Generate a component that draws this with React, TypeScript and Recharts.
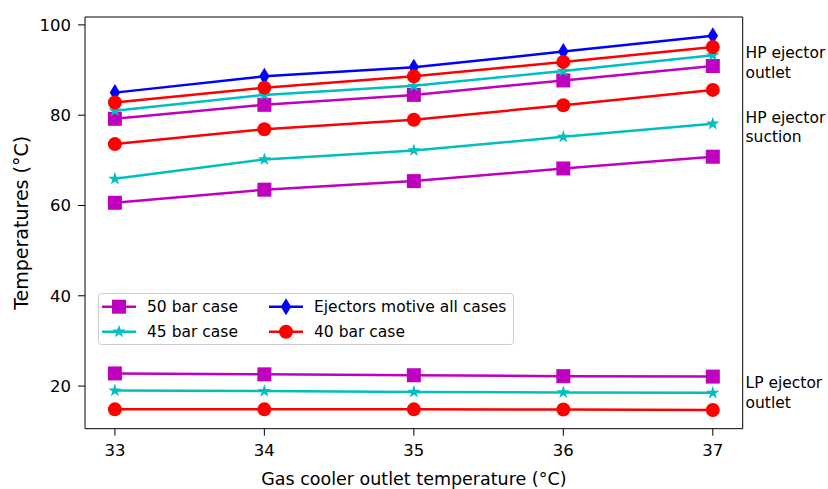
import { LineChart, Line, ReferenceLine, XAxis, YAxis } from 'recharts';

const temps = [33, 34, 35, 36, 37];

// 50 bar case
const bar50Outlet = [79.2, 82.3, 84.5, 87.7, 90.9];
const bar50Suction = [60.6, 63.5, 65.4, 68.2, 70.8];
const bar50Lp = [22.8, 22.6, 22.4, 22.2, 22.1];
// 45 bar case
const bar45Outlet = [81.0, 84.5, 86.5, 89.8, 93.3];
const bar45Suction = [65.9, 70.2, 72.2, 75.2, 78.1];
const bar45Lp = [19.0, 18.9, 18.7, 18.6, 18.5];
// motive, all cases
const motive = [85.0, 88.6, 90.6, 94.1, 97.6];
// 40 bar case
const bar40Outlet = [82.8, 86.1, 88.6, 91.8, 95.1];
const bar40Suction = [73.6, 76.9, 79.0, 82.2, 85.6];
const bar40Lp = [14.85, 14.85, 14.85, 14.8, 14.7];

const xTicks = [33, 34, 35, 36, 37];
const yTicks = [20, 40, 60, 80, 100];
const xDomain: [number, number] = [32.8, 37.2];
const yDomain: [number, number] = [10.56, 101.75];

const data = temps.map((t, i) => ({
  t,
  m1: bar50Outlet[i],
  m2: bar50Suction[i],
  m3: bar50Lp[i],
  c1: bar45Outlet[i],
  c2: bar45Suction[i],
  c3: bar45Lp[i],
  b: motive[i],
  r1: bar40Outlet[i],
  r2: bar40Suction[i],
  r3: bar40Lp[i],
}));

const MAGENTA = '#bf00bf';
const CYAN = '#00bfbf';
const BLUE = '#0000ff';
const RED = '#ff0000';
const FONT = '"DejaVu Sans", sans-serif';

type MarkerKind = 'square' | 'star' | 'diamond' | 'circle';

function Marker({ kind, cx, cy, color }: { kind: MarkerKind; cx: number; cy: number; color: string }) {
  if (kind === 'square') {
    return <rect x={cx - 7} y={cy - 7} width={14} height={14} fill={color} />;
  }
  if (kind === 'circle') {
    return <circle cx={cx} cy={cy} r={7} fill={color} />;
  }
  if (kind === 'diamond') {
    const pts = `${cx},${cy - 8.5} ${cx + 5.2},${cy} ${cx},${cy + 8.5} ${cx - 5.2},${cy}`;
    return <polygon points={pts} fill={color} />;
  }
  const R = 7;
  const r = R * 0.382;
  const pts: string[] = [];
  for (let k = 0; k < 10; k++) {
    const rad = k % 2 === 0 ? R : r;
    const a = -Math.PI / 2 + (k * Math.PI) / 5;
    pts.push(`${cx + rad * Math.cos(a)},${cy + rad * Math.sin(a)}`);
  }
  return <polygon points={pts.join(' ')} fill={color} />;
}

const dotFor = (kind: MarkerKind, color: string) => (p: any) => (
  <Marker key={`${kind}-${p.index}`} kind={kind} cx={p.cx} cy={p.cy} color={color} />
);

const series: { key: string; kind: MarkerKind; color: string }[] = [
  { key: 'm1', kind: 'square', color: MAGENTA },
  { key: 'm2', kind: 'square', color: MAGENTA },
  { key: 'm3', kind: 'square', color: MAGENTA },
  { key: 'c1', kind: 'star', color: CYAN },
  { key: 'c2', kind: 'star', color: CYAN },
  { key: 'c3', kind: 'star', color: CYAN },
  { key: 'b', kind: 'diamond', color: BLUE },
  { key: 'r1', kind: 'circle', color: RED },
  { key: 'r2', kind: 'circle', color: RED },
  { key: 'r3', kind: 'circle', color: RED },
];

const legendItems: { label: string; kind: MarkerKind; color: string; col: number; row: number }[] = [
  { label: '50 bar case', kind: 'square', color: MAGENTA, col: 0, row: 0 },
  { label: '45 bar case', kind: 'star', color: CYAN, col: 0, row: 1 },
  { label: 'Ejectors motive all cases', kind: 'diamond', color: BLUE, col: 1, row: 0 },
  { label: '40 bar case', kind: 'circle', color: RED, col: 1, row: 1 },
];

function LegendBox() {
  const colX = [21, 188];
  const rowY = [13.7, 38.7];
  return (
    <svg width={416} height={52} style={{ position: 'absolute', left: 97.5, top: 292.5 }}>
      <rect x={0.5} y={0.5} width={415} height={51} rx={3} fill="rgba(255,255,255,0.8)" stroke="#cccccc" />
      {legendItems.map((it) => {
        const mx = colX[it.col];
        const my = rowY[it.row];
        return (
          <g key={it.label}>
            <line x1={mx - 17} x2={mx + 17} y1={my} y2={my} stroke={it.color} strokeWidth={2.5} />
            <Marker kind={it.kind} cx={mx} cy={my} color={it.color} />
            <text x={mx + 28} y={my + 5.5} fontSize={15.5} fontFamily={FONT} fill="#000">
              {it.label}
            </text>
          </g>
        );
      })}
    </svg>
  );
}

const sideLabels = [
  { lines: ['HP ejector', 'outlet'], top: 44 },
  { lines: ['HP ejector', 'suction'], top: 108.6 },
  { lines: ['LP ejector', 'outlet'], top: 374 },
];

export default function App() {
  return (
    <div style={{ position: 'absolute', left: 0, top: 0, width: 828, height: 489, background: '#fff' }}>
      <LineChart
        width={828}
        height={489}
        data={data}
        margin={{ top: 17, right: 85.3, bottom: 0, left: 0 }}
        style={{ fontFamily: FONT }}
      >
        <XAxis
          dataKey="t"
          type="number"
          domain={xDomain}
          ticks={xTicks}
          allowDataOverflow
          height={60.3}
          stroke="#000"
          tickSize={7}
          tickMargin={9}
          tick={{ fill: '#000', fontSize: 16.5, fontFamily: FONT }}
          label={{
            value: 'Gas cooler outlet temperature (°C)',
            position: 'insideBottom',
            offset: 4,
            fill: '#000',
            fontSize: 17.5,
            fontFamily: FONT,
          }}
        />
        <YAxis
          type="number"
          domain={yDomain}
          ticks={yTicks}
          allowDataOverflow
          width={85}
          stroke="#000"
          tickSize={7}
          tickMargin={7}
          tick={{ fill: '#000', fontSize: 16.5, fontFamily: FONT }}
          label={{
            value: 'Temperatures (°C)',
            angle: -90,
            position: 'insideLeft',
            offset: 21,
            style: { textAnchor: 'middle' },
            fill: '#000',
            fontSize: 19,
            fontFamily: FONT,
          }}
        />
        <ReferenceLine x={xDomain[1]} stroke="#000" strokeWidth={1} ifOverflow="extendDomain" />
        <ReferenceLine y={yDomain[1]} stroke="#000" strokeWidth={1} ifOverflow="extendDomain" />
        {series.map((s) => (
          <Line
            key={s.key}
            dataKey={s.key}
            stroke={s.color}
            strokeWidth={2.5}
            dot={dotFor(s.kind, s.color)}
            activeDot={false}
            isAnimationActive={false}
            legendType="none"
          />
        ))}
      </LineChart>
      <LegendBox />
      {sideLabels.map((l) => (
        <div
          key={l.top}
          style={{
            position: 'absolute',
            left: 745.5,
            top: l.top,
            fontFamily: FONT,
            fontSize: 15.5,
            lineHeight: '19.5px',
            color: '#000',
            whiteSpace: 'nowrap',
          }}
        >
          {l.lines.map((t) => (
            <div key={t}>{t}</div>
          ))}
        </div>
      ))}
    </div>
  );
}
